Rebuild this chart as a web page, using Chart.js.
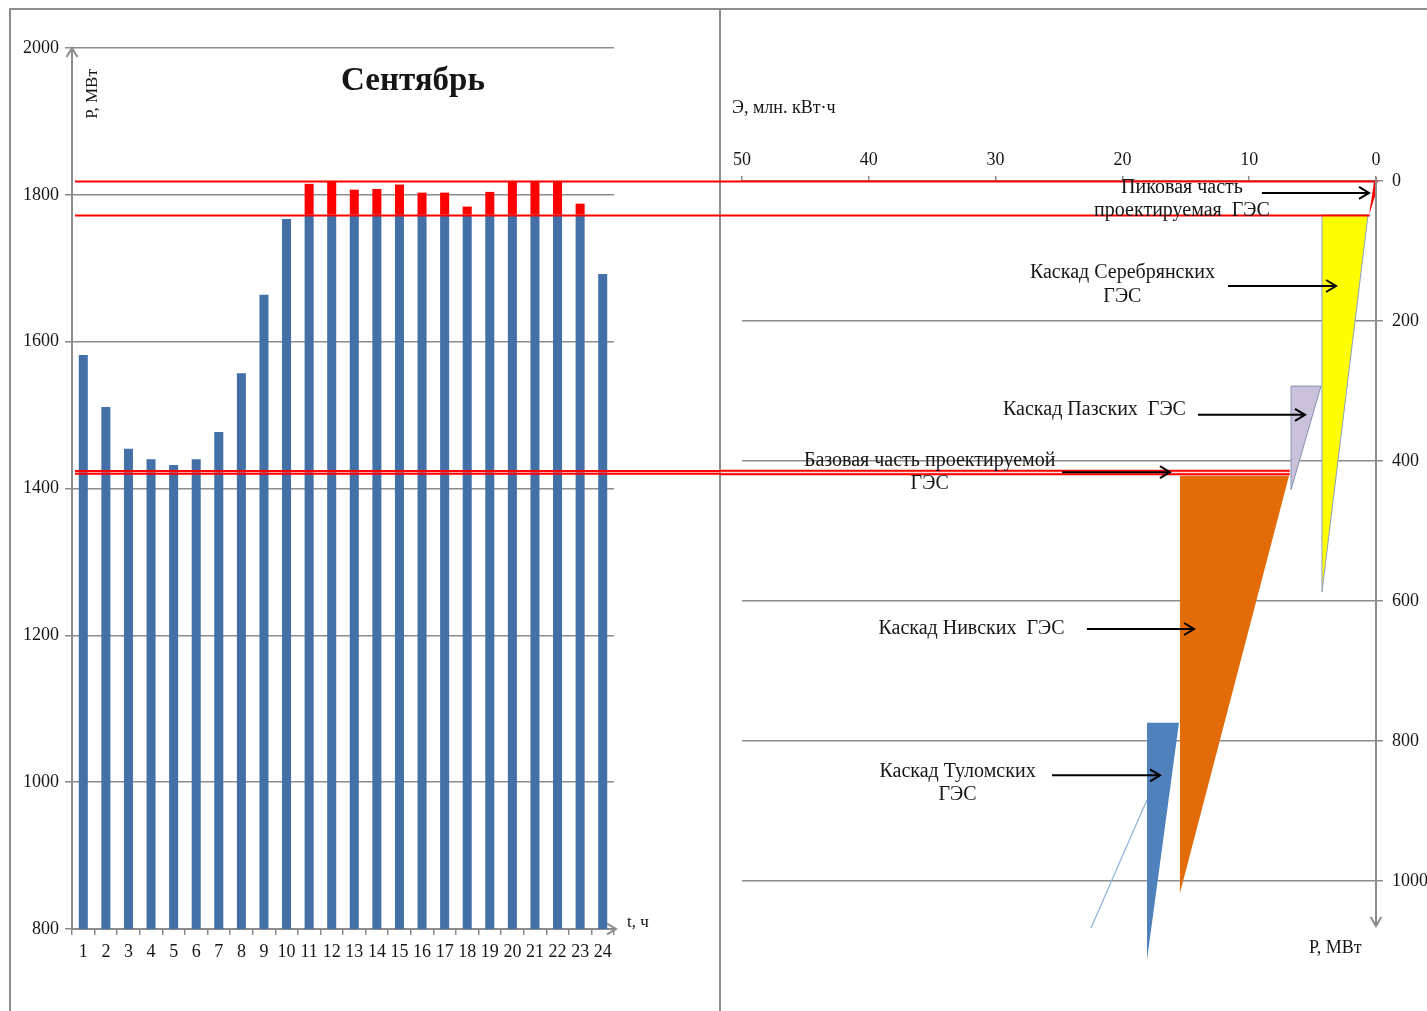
<!DOCTYPE html>
<html lang="ru">
<head>
<meta charset="utf-8">
<title>Сентябрь — покрытие суточного графика нагрузки</title>
<script src="https://cdn.jsdelivr.net/npm/chart.js@4.4.1/dist/chart.umd.min.js"></script>
<style>
  html, body { margin: 0; padding: 0; background: #fff; }
  #page { position: relative; width: 1427px; height: 1011px; overflow: hidden; }
  canvas { position: absolute; top: 0; }
  #load { left: 0; }
  #ikn { left: 720px; }
  .rule { position: absolute; background: #8e8e8e; }
</style>
</head>
<body>
<div id="page">
  <div class="rule" style="left:10px;top:8px;width:1417px;height:2px"></div>
  <div class="rule" style="left:9px;top:8px;width:2px;height:1003px"></div>
  <div class="rule" style="left:719px;top:8px;width:2px;height:1003px"></div>
  <canvas id="load" width="720" height="1011"></canvas>
  <canvas id="ikn" width="707" height="1011"></canvas>
</div>
<script>
// ---------- Суточный график нагрузки (сентябрь) ----------
const hours = ['1','2','3','4','5','6','7','8','9','10','11','12',
               '13','14','15','16','17','18','19','20','21','22','23','24'];
const loadMW = [1582, 1511, 1454, 1440, 1432, 1440, 1477, 1557, 1664, 1767, 1815, 1819,
                1807, 1808, 1814, 1803, 1803, 1784, 1804, 1819, 1819, 1819, 1788, 1692];
const loadTicks = [800, 1000, 1200, 1400, 1600, 1800, 2000];
const peakTopMW = 1819;          // верх пиковой части
const peakBaseMW = 1773;         // граница пиковой части проектируемой ГЭС
const baseBandMW = [1420, 1424]; // базовая часть проектируемой ГЭС

// ---------- Интегральная кривая нагрузки ----------
const energyTicks = [0, 10, 20, 30, 40, 50];          // Э, млн. кВт·ч
const powerTicks = [0, 200, 400, 600, 800, 1000];     // Р, МВт
const iknPeakLevels = [0, 48.6];
const iknBaseBand = [414, 419];

// Рабочие зоны станций: вершины в координатах (Э, Р)
const peakPartE = [-0.3, 0.15, 0.55, -0.3];
const peakPartP = [0, 0, 48.6, 0];
const serebrE = [4.26, 0.63, 4.26, 4.26];
const serebrP = [48.6, 48.6, 587, 48.6];
const pazE = [6.70, 4.34, 6.70, 6.70];
const pazP = [293, 293, 441, 293];
const nivaE = [15.46, 6.86, 15.46, 15.46];
const nivaP = [421, 421, 1017, 421];
const tulomaE = [18.06, 15.54, 18.06, 18.06];
const tulomaP = [774, 774, 1113, 774];
const tulomaLineE = [22.48, 18.06];
const tulomaLineP = [1067, 884];

const SERIF = "'Liberation Serif', 'Times New Roman', serif";
const INK = '#161616';
const GRID = '#8c8c8c';
const RED = '#ff0000';
const BAR_BLUE = '#4470a8';

Chart.defaults.font.family = SERIF;
Chart.defaults.color = INK;

const baseSeries = loadMW.map(v => Math.min(v, peakBaseMW));
const peakSeries = loadMW.map(v => Math.max(0, v - peakBaseMW));
const plainNumber = v => String(v);

function chevron(ctx, tipX, tipY, dirX, dirY, size) {
  // открытая стрелка с остриём в (tipX, tipY)
  const nx = -dirY, ny = dirX;
  ctx.beginPath();
  ctx.moveTo(tipX - dirX * size + nx * size * 0.6, tipY - dirY * size + ny * size * 0.6);
  ctx.lineTo(tipX, tipY);
  ctx.lineTo(tipX - dirX * size - nx * size * 0.6, tipY - dirY * size - ny * size * 0.6);
  ctx.stroke();
}

function redBand(ctx, x0, x1, yA, yB) {
  ctx.fillStyle = 'rgba(255, 150, 150, 0.35)';
  ctx.fillRect(x0, Math.min(yA, yB), x1 - x0, Math.abs(yB - yA));
  ctx.strokeStyle = RED;
  ctx.lineWidth = 2;
  [yA, yB].forEach(yy => {
    ctx.beginPath(); ctx.moveTo(x0, yy); ctx.lineTo(x1, yy); ctx.stroke();
  });
}

// ---------- Левая диаграмма ----------
const loadDecor = {
  id: 'loadDecor',
  afterDatasetsDraw(chart) {
    const { ctx, scales: { y }, chartArea, width } = chart;
    ctx.save();
    const x0 = chartArea.left + 3;
    ctx.strokeStyle = RED;
    ctx.lineWidth = 2;
    [peakTopMW, peakBaseMW].forEach(v => {
      const yy = Math.round(y.getPixelForValue(v)) + 0.5;
      ctx.beginPath(); ctx.moveTo(x0, yy); ctx.lineTo(width, yy); ctx.stroke();
    });
    redBand(ctx, x0, width, y.getPixelForValue(baseBandMW[1]), y.getPixelForValue(baseBandMW[0]));
    ctx.restore();
  },
  afterDraw(chart) {
    const { ctx, chartArea } = chart;
    ctx.save();
    ctx.strokeStyle = GRID;
    ctx.lineWidth = 2;
    chevron(ctx, chartArea.left, chartArea.top, 0, -1, 9);
    chevron(ctx, chartArea.right + 2, chartArea.bottom, 1, 0, 9);

    ctx.fillStyle = INK;
    ctx.font = `bold 33px ${SERIF}`;
    ctx.textAlign = 'center';
    ctx.textBaseline = 'middle';
    ctx.fillText('Сентябрь', 413, 81);

    ctx.font = `17px ${SERIF}`;
    ctx.textAlign = 'left';
    ctx.fillText('t, ч', 627, 923);

    ctx.translate(93, 94);
    ctx.rotate(-Math.PI / 2);
    ctx.textAlign = 'center';
    ctx.fillText('Р, МВт', 0, 0);
    ctx.restore();
  }
};

new Chart(document.getElementById('load'), {
  type: 'bar',
  data: {
    labels: hours,
    datasets: [
      { label: 'Нагрузка', data: baseSeries, backgroundColor: BAR_BLUE,
        barPercentage: 0.4, categoryPercentage: 1 },
      { label: 'Пиковая часть', data: peakSeries, backgroundColor: RED,
        barPercentage: 0.4, categoryPercentage: 1 }
    ]
  },
  options: {
    responsive: false,
    animation: false,
    layout: { padding: { top: 48, right: 106, bottom: 0, left: 0 } },
    plugins: { legend: { display: false }, tooltip: { enabled: false } },
    scales: {
      x: {
        stacked: true,
        grid: { drawOnChartArea: false, offset: true, tickLength: 6, color: GRID, lineWidth: 1.5 },
        border: { color: GRID, width: 2 },
        ticks: { font: { size: 18 }, color: INK, padding: 6, maxRotation: 0, autoSkip: false },
        afterFit(s) { s.height = 82; }
      },
      y: {
        stacked: true,
        min: 800, max: 2000,
        afterBuildTicks(s) { s.ticks = loadTicks.map(v => ({ value: v })); },
        ticks: { font: { size: 18 }, color: INK, padding: 6, callback: plainNumber },
        grid: { color: GRID, lineWidth: 1.5, tickLength: 7 },
        border: { color: GRID, width: 2 },
        afterFit(s) { s.width = 72; }
      }
    }
  },
  plugins: [loadDecor]
});

// ---------- Правая диаграмма (ИКН) ----------
const callouts = [
  { lines: ['Пиковая часть', 'проектируемая  ГЭС'], textE: 15.3, lineP: [10, 43], arrowP: 17, fromE: 9.0, toE: 0.55 },
  { lines: ['Каскад Серебрянских', 'ГЭС'], textE: 20.0, lineP: [131, 166], arrowP: 150, fromE: 11.67, toE: 3.15 },
  { lines: ['Каскад Пазских  ГЭС'], textE: 22.2, lineP: [327], arrowP: 334, fromE: 14.04, toE: 5.6 },
  { lines: ['Базовая часть проектируемой', 'ГЭС'], textE: 35.2, lineP: [400, 433], arrowP: 416, fromE: 24.76, toE: 16.25 },
  { lines: ['Каскад Нивских  ГЭС'], textE: 31.9, lineP: [639], arrowP: 640, fromE: 22.8, toE: 14.35 },
  { lines: ['Каскад Туломских', 'ГЭС'], textE: 33.0, lineP: [844, 877], arrowP: 849, fromE: 25.55, toE: 17.03 }
];

const pts = (es, ps) => es.map((e, i) => ({ x: e, y: ps[i] }));

const iknDecor = {
  id: 'iknDecor',
  afterDatasetsDraw(chart) {
    const { ctx, scales: { x, y } } = chart;
    ctx.save();
    ctx.strokeStyle = RED;
    ctx.lineWidth = 2;
    const ends = [x.getPixelForValue(-0.15), x.getPixelForValue(0.5)];
    iknPeakLevels.forEach((p, i) => {
      const yy = Math.round(y.getPixelForValue(p)) + 0.5;
      ctx.beginPath(); ctx.moveTo(0, yy); ctx.lineTo(ends[i], yy); ctx.stroke();
    });
    redBand(ctx, 0, x.getPixelForValue(6.8), y.getPixelForValue(iknBaseBand[0]), y.getPixelForValue(iknBaseBand[1]));
    ctx.restore();
  },
  afterDraw(chart) {
    const { ctx, scales: { x, y }, chartArea } = chart;
    ctx.save();
    // ось мощности со стрелкой вниз
    ctx.strokeStyle = GRID;
    ctx.lineWidth = 2;
    const ax = chartArea.right;
    ctx.beginPath(); ctx.moveTo(ax, chartArea.top - 4); ctx.lineTo(ax, 926); ctx.stroke();
    chevron(ctx, ax, 926, 0, 1, 9);

    ctx.fillStyle = INK;
    ctx.textBaseline = 'middle';
    ctx.font = `18px ${SERIF}`;
    ctx.textAlign = 'left';
    ctx.fillText('Э, млн. кВт·ч', 12, 108);
    ctx.fillText('Р, МВт', 589, 948);

    // подписи станций со стрелками
    ctx.font = `20px ${SERIF}`;
    ctx.textAlign = 'center';
    ctx.strokeStyle = '#000';
    ctx.lineWidth = 2;
    callouts.forEach(c => {
      const tx = x.getPixelForValue(c.textE);
      c.lines.forEach((t, i) => ctx.fillText(t, tx, y.getPixelForValue(c.lineP[i])));
      const ay = y.getPixelForValue(c.arrowP);
      const x0 = x.getPixelForValue(c.fromE), x1 = x.getPixelForValue(c.toE);
      ctx.beginPath(); ctx.moveTo(x0, ay); ctx.lineTo(x1, ay); ctx.stroke();
      chevron(ctx, x1, ay, 1, 0, 10);
    });
    ctx.restore();
  }
};

const shape = (label, data, fillColor, borderColor, borderWidth) => ({
  label, data, showLine: true, fill: 'shape', tension: 0,
  backgroundColor: fillColor, borderColor, borderWidth,
  pointRadius: 0, pointHoverRadius: 0
});

new Chart(document.getElementById('ikn'), {
  type: 'scatter',
  data: {
    datasets: [
      shape('Каскад Туломских ГЭС', pts(tulomaE, tulomaP), '#4f81bd', '#4f81bd', 0),
      shape('Каскад Нивских ГЭС', pts(nivaE, nivaP), '#e36c09', '#e36c09', 0),
      shape('Каскад Пазских ГЭС', pts(pazE, pazP), '#ccc1da', '#8393b3', 1),
      shape('Каскад Серебрянских ГЭС', pts(serebrE, serebrP), '#ffff00', '#8da0bd', 1),
      shape('Пиковая часть проектируемой ГЭС', pts(peakPartE, peakPartP), RED, RED, 0),
      { label: 'ИКН', data: pts(tulomaLineE, tulomaLineP), showLine: true, fill: false,
        borderColor: '#8db0dc', borderWidth: 1.2, pointRadius: 0 }
    ]
  },
  options: {
    responsive: false,
    animation: false,
    layout: { padding: { top: 0, right: 0, bottom: 32, left: 22 } },
    plugins: { legend: { display: false }, tooltip: { enabled: false } },
    scales: {
      x: {
        type: 'linear', position: 'top',
        min: 0, max: 50, reverse: true,
        afterBuildTicks(s) { s.ticks = energyTicks.map(v => ({ value: v })); },
        ticks: { font: { size: 18 }, color: INK, padding: 5, callback: plainNumber },
        grid: { drawOnChartArea: false, tickLength: 5, color: GRID, lineWidth: 1.5 },
        border: { color: GRID, width: 2 },
        afterFit(s) { s.height = 181; }
      },
      y: {
        type: 'linear', position: 'right',
        min: 0, max: 1140, reverse: true,
        afterBuildTicks(s) { s.ticks = powerTicks.map(v => ({ value: v })); },
        ticks: { font: { size: 18 }, color: INK, padding: 9, callback: plainNumber },
        grid: { color: GRID, lineWidth: 1.5, tickLength: 7 },
        border: { display: false },
        afterFit(s) { s.width = 51; }
      }
    }
  },
  plugins: [iknDecor]
});
</script>
</body>
</html>
